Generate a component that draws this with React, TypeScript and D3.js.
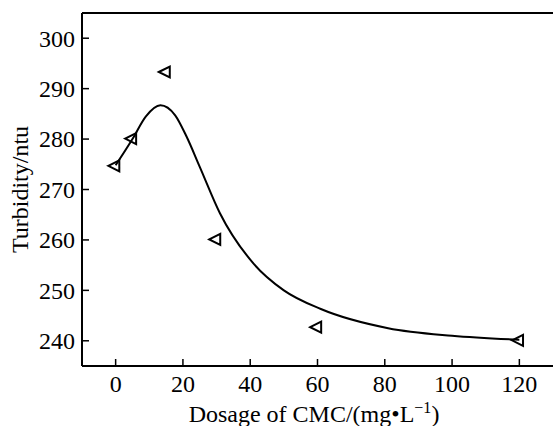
import React from "react";
import * as d3 from "d3";

const pointX = [0, 5, 15, 30, 60, 120];
const pointY = [274.7, 280.1, 293.3, 260.1, 242.7, 240.1];

const curveX = [0, 5, 9, 13.3, 17.7, 21, 25, 31, 41, 50, 61, 81, 100, 120];
const curveY = [274.8, 280.0, 284.5, 286.7, 284.7, 280.6, 274.5, 265.3, 255.3, 250.0, 246.3, 242.5, 241.0, 240.2];

const xTicks = [0, 20, 40, 60, 80, 100, 120];
const yTicks = [240, 250, 260, 270, 280, 290, 300];

const W = 553;
const H = 426;
const left = 82;
const right = 553;
const top = 13;
const bottom = 366;

const FONT = "'Liberation Serif', 'Times New Roman', serif";

export default function App() {
  const x = d3.scaleLinear().domain([-10, 130]).range([left, right]);
  const y = d3.scaleLinear().domain([235, 305]).range([bottom, top]);

  const line = d3
    .line<number>()
    .x((d, i) => x(curveX[i]))
    .y((d, i) => y(curveY[i]))
    .curve(d3.curveMonotoneX);

  const tw = 11;
  const th = 11;
  const tri = `M${(-2 * tw) / 3},0L${tw / 3},${-th / 2}L${tw / 3},${th / 2}Z`;

  return (
    <svg
      width={W}
      height={H}
      style={{ position: "absolute", left: 0, top: 0, background: "#fff" }}
      fontFamily={FONT}
    >
      <rect x={0} y={0} width={W} height={H} fill="#fff" />
      {/* frame */}
      <line x1={left} x2={right} y1={top} y2={top} stroke="#000" strokeWidth={2} />
      <line x1={left} x2={right} y1={bottom} y2={bottom} stroke="#000" strokeWidth={2} />
      <line x1={left} x2={left} y1={top} y2={bottom} stroke="#000" strokeWidth={2} />

      {/* y ticks */}
      {yTicks.map((t) => (
        <g key={"y" + t}>
          <line x1={left} x2={left + 7} y1={y(t)} y2={y(t)} stroke="#000" strokeWidth={1.5} />
          <text x={left - 7} y={y(t)} dy="0.35em" textAnchor="end" fontSize={24} fill="#000">
            {t}
          </text>
        </g>
      ))}

      {/* x ticks */}
      {xTicks.map((t) => (
        <g key={"x" + t}>
          <line x1={x(t)} x2={x(t)} y1={bottom} y2={bottom - 7} stroke="#000" strokeWidth={1.5} />
          <text x={x(t)} y={bottom + 26} textAnchor="middle" fontSize={24} fill="#000">
            {t}
          </text>
        </g>
      ))}

      {/* fitted curve */}
      <path d={line(curveX) || ""} fill="none" stroke="#000" strokeWidth={2} />

      {/* markers */}
      {pointX.map((px, i) => (
        <path
          key={"p" + i}
          d={tri}
          transform={`translate(${x(px)},${y(pointY[i])})`}
          fill="none"
          stroke="#000"
          strokeWidth={2}
          strokeLinejoin="miter"
        />
      ))}

      {/* axis titles */}
      <text x={314} y={422} textAnchor="middle" fontSize={24} fill="#000">
        Dosage of CMC/(mg•L
        <tspan dy={-9} fontSize={16}>−1</tspan>
        <tspan dy={9}>)</tspan>
      </text>
      <text
        transform={`translate(28,${(top + bottom) / 2}) rotate(-90)`}
        textAnchor="middle"
        fontSize={24}
        fill="#000"
      >
        Turbidity/ntu
      </text>
    </svg>
  );
}
